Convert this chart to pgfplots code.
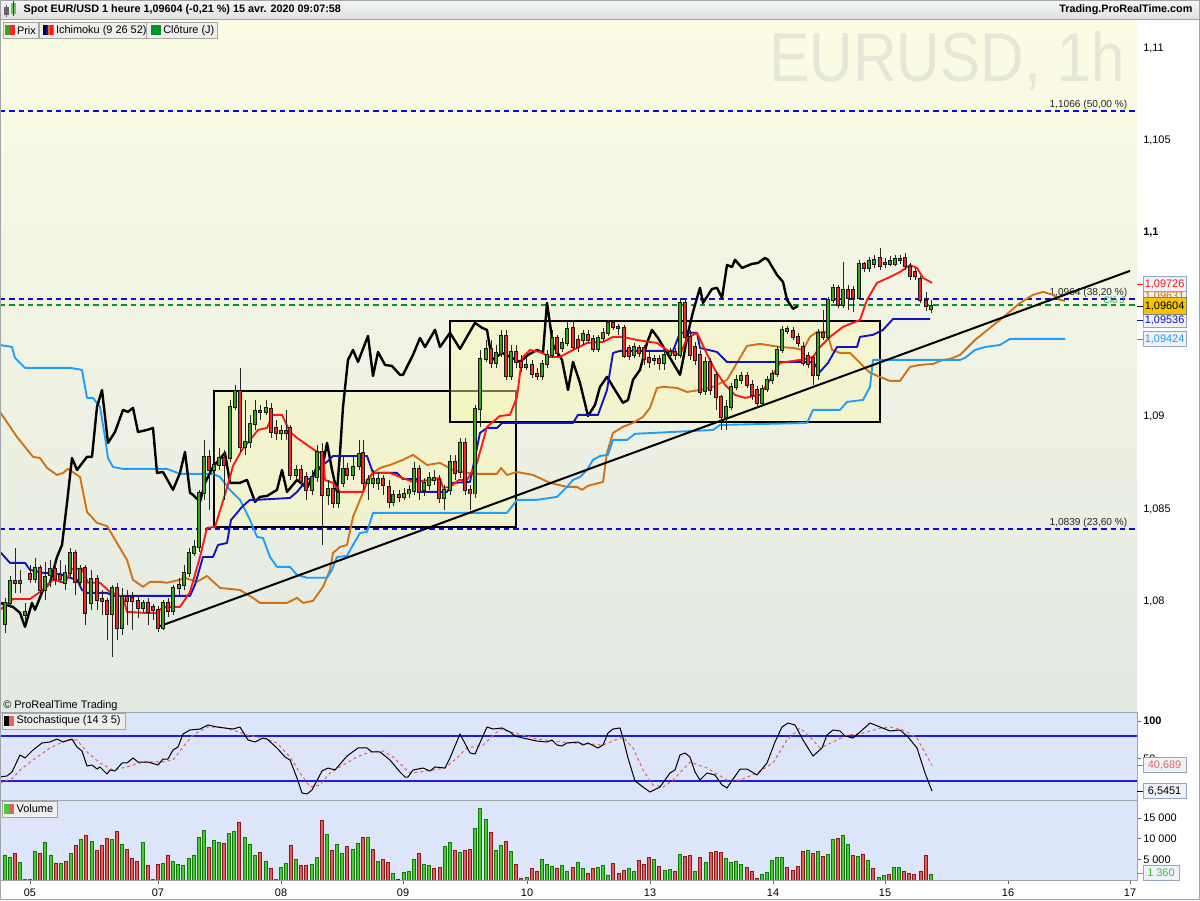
\documentclass[border=0pt]{standalone}
\usepackage{pgfplots}
\pgfplotsset{compat=1.18}
\usepackage{pgfplotstable}
\usepgfplotslibrary{fillbetween}
\usepackage{fontspec}
\setmainfont{Liberation Sans}
\newcommand{\lbl}{\fontsize{8.2}{9.8}\selectfont}
\definecolor{bgtop}{RGB}{252,252,228}
\definecolor{bgbot}{RGB}{227,233,227}
\definecolor{bgblue}{RGB}{221,229,251}
\definecolor{hdtop}{RGB}{246,246,246}
\definecolor{hdbot}{RGB}{222,224,226}
\definecolor{tenkan}{RGB}{255,22,22}
\definecolor{kijun}{RGB}{18,18,190}
\definecolor{senA}{RGB}{210,112,18}
\definecolor{senB}{RGB}{28,158,250}
\definecolor{candgreen}{RGB}{52,168,20}
\definecolor{candred}{RGB}{250,36,36}
\definecolor{candedge}{RGB}{25,25,25}
\definecolor{volgreen}{RGB}{70,205,50}
\definecolor{volgreenedge}{RGB}{20,120,10}
\definecolor{volred}{RGB}{228,92,92}
\definecolor{volrededge}{RGB}{140,25,25}
\definecolor{fibblue}{RGB}{10,10,220}
\definecolor{closegreen}{RGB}{0,150,40}
\definecolor{frame}{RGB}{160,165,170}
\definecolor{boxfill}{RGB}{248,248,180}
\definecolor{wm}{RGB}{230,231,214}
\definecolor{stochred}{RGB}{230,100,100}
\definecolor{stochblue}{RGB}{30,30,210}
\definecolor{gold}{RGB}{248,196,0}
\definecolor{lblfill}{RGB}{238,242,248}
\definecolor{lbledge}{RGB}{150,165,185}
\definecolor{legfill}{RGB}{238,238,238}
\definecolor{volgreenlbl}{RGB}{50,200,50}
\pgfplotstableread{
x o h l c
5 1.07876 1.08018 1.07828 1.07991
10 1.07991 1.08138 1.07964 1.08110
15 1.08110 1.08289 1.08045 1.08100
20 1.08100 1.08170 1.08045 1.08110
25 1.07925 1.07991 1.07882 1.07942
30 1.08148 1.08197 1.08100 1.08121
35 1.08121 1.08235 1.08100 1.08181
40 1.08181 1.08197 1.08023 1.08061
45 1.08061 1.08213 1.08007 1.08132
50 1.08143 1.08224 1.08078 1.08176
55 1.08176 1.08208 1.08089 1.08121
60 1.08143 1.08224 1.08100 1.08121
65 1.08100 1.08197 1.08061 1.08154
70 1.08154 1.08289 1.08132 1.08262
75 1.08262 1.08278 1.08034 1.08105
80 1.08105 1.08197 1.08078 1.08176
85 1.08181 1.08197 1.07871 1.07937
91 1.07991 1.08170 1.07953 1.08121
97 1.08121 1.08143 1.07953 1.08007
102 1.08012 1.08061 1.07925 1.08002
107 1.08002 1.08018 1.07790 1.07931
112 1.07931 1.08089 1.07698 1.08072
117 1.08072 1.08100 1.07790 1.07855
122 1.07855 1.08072 1.07817 1.08023
127 1.08023 1.08061 1.07871 1.08002
132 1.08018 1.08050 1.07844 1.08002
138 1.08002 1.08034 1.07909 1.07964
143 1.07964 1.08007 1.07942 1.07991
148 1.07991 1.08018 1.07871 1.07942
153 1.07969 1.07985 1.07898 1.07953
158 1.07953 1.07974 1.07833 1.07855
163 1.07855 1.08007 1.07844 1.07991
168 1.07991 1.08018 1.07914 1.07947
173 1.07947 1.08089 1.07925 1.08072
179 1.08072 1.08127 1.08034 1.08089
184 1.08089 1.08197 1.08061 1.08154
189 1.08154 1.08289 1.08132 1.08262
194 1.08262 1.08332 1.08245 1.08294
199 1.08294 1.08604 1.08267 1.08588
204 1.08588 1.08875 1.08550 1.08783
209 1.08783 1.08821 1.08496 1.08712
214 1.08712 1.08929 1.08669 1.08739
219 1.08739 1.08832 1.08712 1.08778
224 1.08778 1.08821 1.08550 1.08739
230 1.08778 1.09092 1.08756 1.09054
235 1.09054 1.09173 1.09038 1.09141
240 1.09141 1.09266 1.08810 1.08837
245 1.08837 1.09092 1.08794 1.08864
250 1.08864 1.09010 1.08832 1.08961
255 1.08961 1.09092 1.08929 1.09032
260 1.09032 1.09065 1.08983 1.09027
266 1.09027 1.09092 1.09010 1.09049
271 1.09043 1.09076 1.08886 1.08918
276 1.08940 1.08983 1.08875 1.08913
281 1.08913 1.08956 1.08875 1.08924
286 1.08924 1.09038 1.08875 1.08913
290 1.08940 1.08956 1.08658 1.08685
296 1.08685 1.08739 1.08658 1.08712
301 1.08712 1.08739 1.08615 1.08652
306 1.08674 1.08701 1.08550 1.08604
312 1.08604 1.08712 1.08577 1.08674
317 1.08674 1.08848 1.08647 1.08810
322 1.08810 1.08859 1.08305 1.08577
328 1.08577 1.08658 1.08523 1.08610
333 1.08610 1.08631 1.08507 1.08534
338 1.08534 1.08615 1.08507 1.08588
343 1.08642 1.08794 1.08620 1.08718
347 1.08718 1.08751 1.08658 1.08685
353 1.08685 1.08794 1.08658 1.08728
359 1.08734 1.08875 1.08712 1.08799
363 1.08805 1.08875 1.08604 1.08642
368 1.08642 1.08685 1.08550 1.08658
373 1.08642 1.08712 1.08615 1.08663
378 1.08642 1.08701 1.08604 1.08663
383 1.08663 1.08685 1.08577 1.08631
389 1.08620 1.08658 1.08507 1.08539
393 1.08539 1.08604 1.08517 1.08577
399 1.08577 1.08604 1.08539 1.08566
404 1.08566 1.08615 1.08550 1.08583
409 1.08583 1.08631 1.08561 1.08604
414 1.08599 1.08756 1.08577 1.08718
419 1.08718 1.08739 1.08550 1.08593
424 1.08604 1.08669 1.08572 1.08642
429 1.08631 1.08701 1.08604 1.08669
434 1.08658 1.08712 1.08631 1.08669
439 1.08658 1.08685 1.08534 1.08561
444 1.08561 1.08631 1.08496 1.08604
450 1.08604 1.08794 1.08577 1.08756
455 1.08756 1.08794 1.08658 1.08696
460 1.08701 1.08886 1.08669 1.08859
465 1.08859 1.08886 1.08577 1.08604
470 1.08604 1.08631 1.08496 1.08583
475 1.08583 1.09065 1.08561 1.09043
480 1.09043 1.09363 1.08945 1.09314
486 1.09314 1.09417 1.09298 1.09368
491 1.09368 1.09417 1.09266 1.09293
496 1.09293 1.09390 1.09266 1.09347
501 1.09347 1.09472 1.09325 1.09439
506 1.09439 1.09472 1.09201 1.09223
511 1.09223 1.09390 1.09201 1.09352
516 1.09352 1.09390 1.09266 1.09298
521 1.09298 1.09336 1.09244 1.09271
526 1.09271 1.09320 1.09255 1.09282
532 1.09282 1.09309 1.09212 1.09233
537 1.09233 1.09266 1.09201 1.09223
542 1.09223 1.09309 1.09201 1.09288
547 1.09288 1.09363 1.09266 1.09336
552 1.09336 1.09472 1.09320 1.09428
557 1.09428 1.09445 1.09325 1.09347
562 1.09374 1.09428 1.09352 1.09401
567 1.09401 1.09515 1.09385 1.09477
573 1.09483 1.09526 1.09363 1.09379
578 1.09417 1.09445 1.09352 1.09379
583 1.09417 1.09472 1.09390 1.09450
588 1.09445 1.09472 1.09401 1.09417
593 1.09423 1.09445 1.09352 1.09368
598 1.09368 1.09445 1.09352 1.09428
603 1.09428 1.09483 1.09406 1.09456
608 1.09456 1.09526 1.09439 1.09510
613 1.09510 1.09526 1.09472 1.09488
618 1.09488 1.09504 1.09445 1.09483
624 1.09483 1.09499 1.09320 1.09330
629 1.09374 1.09390 1.09309 1.09330
634 1.09336 1.09401 1.09320 1.09379
639 1.09374 1.09390 1.09325 1.09347
644 1.09374 1.09390 1.09282 1.09314
649 1.09320 1.09352 1.09266 1.09298
654 1.09314 1.09336 1.09282 1.09309
659 1.09314 1.09336 1.09255 1.09293
664 1.09293 1.09363 1.09255 1.09336
670 1.09336 1.09374 1.09320 1.09352
675 1.09352 1.09374 1.09309 1.09336
680 1.09336 1.09646 1.09320 1.09619
685 1.09619 1.09635 1.09417 1.09434
690 1.09434 1.09472 1.09309 1.09336
695 1.09379 1.09406 1.09282 1.09309
700 1.09336 1.09363 1.09119 1.09135
705 1.09141 1.09325 1.09119 1.09298
710 1.09298 1.09320 1.09119 1.09146
716 1.09228 1.09244 1.09038 1.09108
721 1.09108 1.09119 1.08929 1.08999
726 1.08999 1.09092 1.08929 1.09054
731 1.09054 1.09185 1.09038 1.09163
736 1.09163 1.09228 1.09146 1.09201
741 1.09201 1.09244 1.09179 1.09223
747 1.09223 1.09244 1.09157 1.09174
752 1.09174 1.09201 1.09092 1.09119
757 1.09146 1.09168 1.09049 1.09076
762 1.09076 1.09174 1.09059 1.09152
767 1.09152 1.09223 1.09135 1.09201
772 1.09201 1.09255 1.09179 1.09233
777 1.09233 1.09385 1.09217 1.09363
782 1.09363 1.09494 1.09347 1.09472
787 1.09467 1.09494 1.09450 1.09477
793 1.09467 1.09488 1.09417 1.09434
798 1.09434 1.09456 1.09379 1.09401
803 1.09379 1.09406 1.09277 1.09293
808 1.09330 1.09352 1.09266 1.09288
813 1.09320 1.09336 1.09174 1.09228
818 1.09228 1.09477 1.09201 1.09456
823 1.09456 1.09581 1.09417 1.09434
828 1.09434 1.09651 1.09417 1.09635
833 1.09635 1.09722 1.09619 1.09700
838 1.09700 1.09716 1.09592 1.09608
843 1.09608 1.09841 1.09592 1.09689
848 1.09689 1.09716 1.09581 1.09646
853 1.09689 1.09711 1.09570 1.09646
859 1.09646 1.09852 1.09635 1.09830
864 1.09830 1.09841 1.09786 1.09808
869 1.09808 1.09868 1.09786 1.09846
874 1.09830 1.09879 1.09808 1.09852
880 1.09863 1.09917 1.09797 1.09819
885 1.09835 1.09863 1.09808 1.09830
890 1.09830 1.09873 1.09819 1.09846
895 1.09830 1.09879 1.09819 1.09857
900 1.09857 1.09879 1.09830 1.09852
905 1.09863 1.09890 1.09797 1.09819
910 1.09814 1.09835 1.09743 1.09765
915 1.09786 1.09808 1.09743 1.09765
920 1.09748 1.09765 1.09619 1.09635
926 1.09630 1.09678 1.09575 1.09602
931 1.09586 1.09635 1.09564 1.09604
}\candles
\pgfplotstableread{
x y
0 1.07953
13 1.08012
30 1.08012
43 1.08061
53 1.08116
65 1.08100
72 1.08176
82 1.08176
88 1.08100
100 1.08100
110 1.08050
123 1.08023
127 1.07942
143 1.07937
157 1.07937
163 1.07969
180 1.07969
190 1.08050
200 1.08240
207 1.08398
215 1.08403
227 1.08615
233 1.08734
242 1.08821
250 1.08875
258 1.08929
267 1.08940
273 1.09011
282 1.09011
290 1.08918
297 1.08886
307 1.08848
317 1.08810
323 1.08805
325 1.08658
333 1.08642
340 1.08593
363 1.08593
367 1.08658
373 1.08696
390 1.08696
400 1.08674
413 1.08647
430 1.08658
440 1.08669
443 1.08615
450 1.08620
459 1.08658
467 1.08658
477 1.08750
487 1.08946
500 1.09005
510 1.09011
517 1.09108
522 1.09320
530 1.09363
540 1.09352
550 1.09325
560 1.09325
573 1.09363
587 1.09401
603 1.09407
613 1.09434
623 1.09434
637 1.09417
657 1.09401
670 1.09352
680 1.09336
687 1.09428
697 1.09456
705 1.09363
715 1.09255
725 1.09174
735 1.09119
745 1.09103
760 1.09119
770 1.09201
780 1.09293
800 1.09309
813 1.09325
820 1.09379
830 1.09434
843 1.09488
860 1.09526
867 1.09635
877 1.09727
890 1.09759
900 1.09786
910 1.09824
917 1.09808
923 1.09754
932 1.09727
}\tenkan
\pgfplotstableread{
x y
0 1.08268
10 1.08208
25 1.08208
30 1.08170
43 1.08154
60 1.08148
67 1.08132
77 1.08116
82 1.08061
87 1.08045
107 1.08045
113 1.08029
190 1.08029
195 1.08089
203 1.08240
213 1.08240
218 1.08305
227 1.08316
231 1.08441
237 1.08479
242 1.08512
250 1.08550
257 1.08550
290 1.08560
297 1.08593
307 1.08658
313 1.08674
320 1.08728
327 1.08756
333 1.08788
367 1.08788
373 1.08696
397 1.08696
403 1.08663
417 1.08663
420 1.08593
447 1.08593
453 1.08642
470 1.08647
480 1.08913
487 1.08940
497 1.08940
502 1.08967
573 1.08967
578 1.09011
598 1.09011
607 1.09146
613 1.09347
620 1.09358
673 1.09358
680 1.09456
697 1.09456
700 1.09374
717 1.09352
727 1.09298
813 1.09298
820 1.09244
828 1.09293
837 1.09379
857 1.09379
860 1.09434
873 1.09445
883 1.09472
893 1.09531
930 1.09531
}\kijun
\pgfplotstableread{
x y
0 1.09027
17 1.08891
33 1.08783
40 1.08777
47 1.08723
57 1.08685
63 1.08696
68 1.08718
80 1.08674
87 1.08484
97 1.08425
107 1.08408
117 1.08316
127 1.08224
133 1.08116
143 1.08078
150 1.08105
160 1.08105
167 1.08100
180 1.08116
185 1.08127
197 1.08105
207 1.08137
220 1.08072
240 1.08061
253 1.08018
260 1.07991
287 1.07991
297 1.08018
303 1.07991
313 1.08002
323 1.08078
330 1.08170
333 1.08262
340 1.08294
347 1.08305
353 1.08457
360 1.08550
367 1.08642
373 1.08696
380 1.08723
390 1.08739
403 1.08767
413 1.08794
420 1.08767
427 1.08739
440 1.08750
453 1.08712
473 1.08691
497 1.08691
501 1.08723
507 1.08685
517 1.08701
533 1.08685
550 1.08642
567 1.08620
577 1.08620
582 1.08604
588 1.08626
603 1.08647
607 1.08805
613 1.08913
623 1.08946
633 1.08967
643 1.09000
650 1.09049
657 1.09157
663 1.09163
677 1.09157
687 1.09135
700 1.09146
713 1.09163
727 1.09201
737 1.09293
747 1.09385
760 1.09396
780 1.09379
793 1.09374
803 1.09363
810 1.09434
817 1.09461
827 1.09461
832 1.09363
840 1.09347
850 1.09347
860 1.09293
870 1.09239
880 1.09217
890 1.09195
900 1.09195
910 1.09271
920 1.09282
933 1.09287
943 1.09309
950 1.09314
960 1.09336
975 1.09417
990 1.09483
1000 1.09526
1020 1.09618
1033 1.09662
1043 1.09678
1053 1.09662
1060 1.09635
1065 1.09629
}\senkouA
\pgfplotstableread{
x y
0 1.09390
12 1.09379
15 1.09320
25 1.09266
70 1.09266
82 1.09255
87 1.09103
93 1.09103
100 1.09054
105 1.08891
108 1.08777
113 1.08728
123 1.08718
167 1.08718
180 1.08691
213 1.08691
220 1.08674
230 1.08604
240 1.08550
250 1.08441
257 1.08349
263 1.08343
270 1.08240
277 1.08186
290 1.08186
297 1.08143
307 1.08127
327 1.08127
332 1.08170
337 1.08240
347 1.08246
353 1.08305
360 1.08370
367 1.08376
373 1.08479
507 1.08479
517 1.08550
537 1.08550
557 1.08566
567 1.08620
573 1.08658
580 1.08674
587 1.08712
593 1.08767
600 1.08788
608 1.08794
613 1.08875
627 1.08875
635 1.08908
713 1.08929
720 1.08956
807 1.08967
813 1.09038
840 1.09038
847 1.09081
863 1.09092
870 1.09163
873 1.09309
960 1.09309
965 1.09320
975 1.09363
985 1.09379
1000 1.09390
1010 1.09423
1065 1.09423
}\senkouB
\pgfplotstableread{
x y
0 1.07991
13 1.07969
20 1.07937
25 1.07861
32 1.07991
35 1.07953
43 1.08061
50 1.08100
57 1.08240
62 1.08305
67 1.08533
72 1.08777
77 1.08712
87 1.08783
92 1.08783
97 1.09054
102 1.09146
108 1.08859
115 1.08918
123 1.09038
128 1.09027
133 1.09049
138 1.08918
147 1.08929
153 1.08940
157 1.08696
163 1.08701
173 1.08604
180 1.08696
185 1.08810
190 1.08588
193 1.08577
200 1.08539
205 1.08642
213 1.08728
225 1.08805
230 1.08642
240 1.08642
247 1.08658
255 1.08539
260 1.08566
267 1.08571
277 1.08604
282 1.08712
287 1.08593
297 1.08658
307 1.08615
312 1.08669
317 1.08728
322 1.08712
327 1.08859
332 1.08712
337 1.08593
340 1.08805
343 1.09054
348 1.09309
353 1.09363
358 1.09298
368 1.09439
373 1.09222
378 1.09352
385 1.09282
392 1.09276
400 1.09228
403 1.09228
413 1.09336
420 1.09428
425 1.09379
435 1.09472
440 1.09379
450 1.09456
460 1.09369
475 1.09510
482 1.09483
487 1.09472
492 1.09309
502 1.09347
510 1.09325
520 1.09298
528 1.09336
537 1.09363
543 1.09347
547 1.09618
553 1.09390
562 1.09309
568 1.09146
573 1.09298
580 1.09184
588 1.09005
595 1.09065
600 1.09163
607 1.09217
615 1.09146
623 1.09076
628 1.09092
633 1.09201
640 1.09255
647 1.09401
652 1.09472
658 1.09428
667 1.09347
673 1.09293
680 1.09228
683 1.09309
688 1.09456
693 1.09569
697 1.09645
700 1.09700
703 1.09618
712 1.09694
717 1.09700
722 1.09645
727 1.09824
732 1.09813
735 1.09852
742 1.09808
752 1.09830
758 1.09835
765 1.09862
768 1.09852
777 1.09770
783 1.09732
787 1.09635
793 1.09586
798 1.09602
}\chikou
\pgfplotstableread{
x y
0 25.3
7 26.7
12 32
20 54.7
25 50.7
33 61.3
42 70.7
50 72
57 76
63 72
72 76
77 65.3
82 60
87 40
92 41.3
97 36
100 38.7
107 29.3
110 34.7
115 33.3
122 44
127 44
133 50.7
138 45.3
148 45.3
158 41.3
163 49.3
168 49.3
173 61.3
178 65.3
183 82.7
190 88
200 89.3
208 94.7
217 92
233 89.3
240 92
248 74.7
255 72
263 77.3
267 76
277 64
285 52
290 48
297 24
302 4
307 2.7
312 8
322 33.3
328 37.3
335 34.7
347 53.3
358 64
367 64
372 58.7
380 58.7
390 48
400 32
405 25.3
408 25.3
413 34.7
423 37.3
430 33.3
435 38.7
445 37.3
450 50.7
460 82.7
470 57.3
475 56
487 92
493 89.3
502 90.7
510 85.3
515 80
523 77.3
537 73.3
547 72
552 74.7
557 68
562 66.7
567 70.7
578 72
583 68
588 70.7
598 64
603 68
608 84
613 89.3
620 90.7
623 77.3
628 50.7
635 20
643 12
650 5.3
660 12
670 30.7
675 34.7
680 54.7
685 57.3
690 52
695 32
700 21.3
707 30.7
715 28
722 14.7
727 10.7
740 36
747 36
757 28
767 44
775 72
782 92
788 97.3
795 94.7
803 74.7
813 53.3
822 64
827 81.3
833 88
840 86.7
845 80
853 77.3
860 85.3
870 97.3
880 92
890 86.7
900 88
908 78.7
917 64
925 30.7
932 6.5
}\stochK
\pgfplotstableread{
x y
0 17.3
13 24
20 34.7
33 48
50 64
67 74.7
77 74.7
87 58.7
100 44
113 34.7
127 38.7
143 45.3
163 45.3
173 48
183 65.3
193 81.3
207 92
220 92
233 88
247 81.3
263 77.3
277 70.7
290 52
300 30.7
310 12
320 14.7
330 30.7
343 41.3
357 52
370 58.7
383 60
393 52
410 30.7
420 32
445 37.3
457 50.7
467 64
483 68
500 89.3
510 85.3
523 81.3
537 76
553 73.3
570 70.7
590 69.3
603 68
623 78.7
633 64
643 34.7
653 14.7
663 12
673 21.3
690 45.3
707 37.3
727 21.3
740 21.3
757 30.7
773 44
787 74.7
800 90.7
810 78.7
820 64
833 72
847 81.3
860 82.7
877 89.3
890 92
903 88
917 77.3
932 40.7
}\stochD
\pgfplotstableread{
x v g
5 6040 1
10 5480 1
15 6450 0
20 4270 1
25 200 1
30 170 1
35 6930 1
40 6450 0
45 9100 1
51 6040 1
56 4030 0
61 4030 1
66 4520 0
71 6450 1
76 8380 0
81 9830 1
86 10800 0
92 9350 1
97 7170 0
102 8380 0
107 10070 0
112 9830 1
117 11760 0
122 8620 1
127 7410 0
132 5240 0
137 4520 0
143 9100 1
148 3550 0
153 170 1
158 3860 0
163 4030 1
168 5970 0
173 4520 1
178 3790 1
183 3620 1
189 5240 1
194 6040 1
199 10310 1
204 12000 1
209 7900 0
214 9590 1
219 9100 1
224 8860 0
229 11280 1
234 11760 1
239 13930 0
245 10310 1
250 8620 1
255 5970 1
260 6690 0
266 4520 1
271 2830 0
276 170 1
281 3070 1
286 4030 1
291 8380 0
296 5000 1
301 3550 0
306 3550 0
312 3860 1
317 5480 1
322 14420 0
327 11040 1
332 7170 0
337 8620 1
342 6450 1
347 8140 0
353 7410 1
358 8860 1
363 10380 0
368 10380 1
373 7410 0
378 4520 1
383 5000 0
388 4270 0
393 1620 1
398 240 0
404 1860 1
409 2170 1
414 5000 1
419 6450 0
424 3790 1
429 3550 1
434 2830 0
440 3070 0
445 8140 1
450 9100 1
455 7170 0
460 6690 1
465 7170 0
470 7410 0
475 12490 1
480 17320 1
486 14660 1
491 11520 0
496 7170 1
501 8380 1
506 9350 0
511 6930 1
516 3790 0
521 410 0
527 650 1
532 2830 0
537 2100 0
542 5000 1
547 3790 1
552 3310 1
557 2830 0
562 3550 1
567 2100 1
573 3070 0
578 4270 1
583 2830 1
588 1620 0
593 2830 0
598 3070 1
603 3550 1
608 1140 1
613 4030 0
619 1620 0
624 2340 0
629 2830 1
634 2100 1
639 4760 0
644 3790 0
649 5480 0
654 5000 1
659 3310 0
665 2340 1
670 2580 1
675 2100 0
680 6210 1
685 5720 0
690 5970 0
695 2100 1
700 5480 0
706 4270 1
711 6690 0
716 6930 0
721 6690 0
726 5240 1
731 4270 1
736 4520 1
741 3790 1
747 3070 0
752 2100 0
757 410 0
762 1380 1
767 1860 1
772 4760 1
777 5480 1
782 5480 1
787 3070 0
793 2340 0
798 3310 0
803 6930 0
808 7170 1
813 6450 0
818 6930 1
823 5720 0
828 6210 1
833 9830 1
838 10070 0
843 10800 1
848 8620 1
853 5970 0
858 5720 1
863 6210 0
868 4760 1
873 2830 0
879 650 1
884 1140 1
889 1380 0
894 3070 1
899 3070 1
904 2100 0
909 1620 0
914 1380 0
921 2100 0
926 5970 0
931 1360 1
}\volumes
\begin{document}
\begin{tikzpicture}
\begin{scope}[x=1pt,y=1pt]
\fill[white] (0,0) rectangle (900,675);
\shade[top color=hdtop, bottom color=hdbot] (0,660.75) rectangle (900,675);
\shade[top color=bgtop, bottom color=bgbot] (0,141) rectangle (852.75,660);
\end{scope}
% ================= main price panel =================
\begin{axis}[
  at={(0pt,141pt)}, anchor=south west, scale only axis,
  width=852.75pt, height=519pt,
  xmin=0, xmax=1137, ymin=1.07399, ymax=1.11153,
  axis line style={draw=frame, line width=0.6pt},
  xtick=\empty, scaled y ticks=false,
  ytick={1.08,1.085,1.09,1.095,1.1,1.105,1.11},
  yticklabels={{1,08},{1,085},{1,09},{},{\textbf{1,1}},{1,105},{1,11}},
  ytick pos=right, yticklabel pos=right,
  tick align=outside, major tick length=3pt,
  tick style={draw=black!60, line width=0.5pt},
  yticklabel style={font=\lbl, inner sep=1.5pt},
]
\node[anchor=east, font=\fontsize{52}{52}\selectfont, text=wm, xscale=0.87, inner sep=0pt] at (axis cs:1125,1.10931) {EURUSD, 1h};
% cloud
\addplot[name path=sa, draw=none, forget plot] table {\senkouA};
\addplot[name path=sb, draw=none, forget plot] table {\senkouB};
\addplot[fill=black!70, fill opacity=0.07, draw=none, forget plot] fill between[of=sa and sb];
% boxes
\draw[line width=1.7pt, fill=boxfill, fill opacity=0.45] (axis cs:214,1.09141) rectangle (axis cs:516,1.08403);
\draw[line width=1.7pt, fill=boxfill, fill opacity=0.45] (axis cs:450,1.09521) rectangle (axis cs:880,1.08973);
% fibonacci / close lines
\addplot[fibblue, line width=1.4pt, dash pattern=on 4pt off 3pt] coordinates {(0,1.1066) (1137,1.1066)};
\addplot[fibblue, line width=1.4pt, dash pattern=on 4pt off 3pt] coordinates {(0,1.0964) (1137,1.0964)};
\addplot[closegreen, line width=1.4pt, dash pattern=on 4pt off 3pt] coordinates {(0,1.09608) (1137,1.09608)};
\addplot[fibblue, line width=1.4pt, dash pattern=on 4pt off 3pt] coordinates {(0,1.0839) (1137,1.0839)};
\node[anchor=south west, font=\fontsize{7.6}{9}\selectfont, inner sep=1pt, text=black!85] at (axis cs:1048,1.1066) {1,1066 (50,00 \%)};
\node[anchor=south west, font=\fontsize{7.6}{9}\selectfont, inner sep=1pt, text=black!85] at (axis cs:1048,1.0964) {1,0964 (38,20 \%)};
\node[anchor=south west, font=\fontsize{7.6}{9}\selectfont, inner sep=1pt, text=black!85] at (axis cs:1048,1.0839) {1,0839 (23,60 \%)};
\node[anchor=west, font=\fontsize{7}{8}\selectfont, inner sep=0pt, text=closegreen!80] at (axis cs:1103,1.09635) {Clô J};
% ichimoku lines
\addplot[senA, line width=1.4pt, line join=round] table {\senkouA};
\addplot[senB, line width=1.4pt, line join=round] table {\senkouB};
\addplot[black, line width=1.8pt, line join=round] table {\chikou};
\addplot[kijun, line width=1.4pt, line join=round] table {\kijun};
\addplot[tenkan, line width=1.4pt, line join=round] table {\tenkan};
% trend line
\addplot[black, line width=1.5pt] coordinates {(158,1.07861) (1130,1.09792)};
% candles: wicks
\addplot[draw=none, mark=none, error bars/.cd, y dir=plus, y explicit, error mark=none,
  error bar style={solid, line width=0.7pt, draw=black!85}]
  table[x=x, y=l, y error plus expr={\thisrow{h}-\thisrow{l}}] {\candles};
% body outlines
\addplot[draw=none, mark=none, error bars/.cd, y dir=plus, y explicit, error mark=none,
  error bar style={solid, line width=3.3pt, draw=candedge}]
  table[x=x, y expr={min(\thisrow{o},\thisrow{c})-0.00004}, y error plus expr={abs(\thisrow{c}-\thisrow{o})+0.00008}] {\candles};
% up bodies
\addplot[draw=none, mark=none, error bars/.cd, y dir=plus, y explicit, error mark=none,
  error bar style={solid, line width=2.1pt, draw=candgreen}]
  table[x=x, y expr={\thisrow{c}>=\thisrow{o} ? \thisrow{o} : nan}, y error plus expr={abs(\thisrow{c}-\thisrow{o})}] {\candles};
% down bodies
\addplot[draw=none, mark=none, error bars/.cd, y dir=plus, y explicit, error mark=none,
  error bar style={solid, line width=2.1pt, draw=candred}]
  table[x=x, y expr={\thisrow{c}<\thisrow{o} ? \thisrow{c} : nan}, y error plus expr={abs(\thisrow{c}-\thisrow{o})}] {\candles};
\end{axis}
% ================= stochastic panel =================
\begin{axis}[
  at={(0pt,75pt)}, anchor=south west, scale only axis,
  width=852.75pt, height=66pt,
  xmin=0, xmax=1137, ymin=-5.33, ymax=112,
  axis background/.style={fill=bgblue},
  axis line style={draw=frame, line width=0.6pt},
  xtick=\empty, scaled y ticks=false,
  ytick={50,100}, yticklabels={{50},{\textbf{100}}},
  ytick pos=right, yticklabel pos=right,
  tick align=outside, major tick length=3pt,
  tick style={draw=black!60, line width=0.5pt},
  yticklabel style={font=\lbl, inner sep=1.5pt},
]
\addplot[stochblue, line width=0.8pt] coordinates {(0,80) (1137,80)};
\addplot[stochblue, line width=0.8pt] coordinates {(0,20) (1137,20)};
\addplot[stochred, line width=0.8pt, dash pattern=on 2.2pt off 2.2pt] table {\stochD};
\addplot[black, line width=0.75pt, line join=round] table {\stochK};
\end{axis}
% ================= volume panel =================
\begin{axis}[
  at={(0pt,15pt)}, anchor=south west, scale only axis,
  width=852.75pt, height=60pt,
  xmin=0, xmax=1137, ymin=0, ymax=19320,
  axis background/.style={fill=bgblue},
  axis line style={draw=frame, line width=0.6pt},
  xtick={30,158,281,403,527,650,773,885,1008,1130},
  xticklabels={05,07,08,09,10,13,14,15,16,17},
  xtick pos=bottom, scaled y ticks=false,
  ytick={5000,10000,15000}, yticklabels={{5 000},{10 000},{15 000}},
  ytick pos=right, yticklabel pos=right,
  tick align=outside, major tick length=3pt,
  tick style={draw=black!60, line width=0.5pt},
  yticklabel style={font=\lbl, inner sep=1.5pt},
  xticklabel style={font=\lbl},
]
\addplot[ybar, bar width=2.5pt, bar shift=0pt, fill=volgreen, draw=volgreenedge, line width=0.45pt]
  table[x=x, y expr={\thisrow{g}>0 ? \thisrow{v} : nan}] {\volumes};
\addplot[ybar, bar width=2.5pt, bar shift=0pt, fill=volred, draw=volrededge, line width=0.45pt]
  table[x=x, y expr={\thisrow{g}>0 ? nan : \thisrow{v}}] {\volumes};
\end{axis}
\begin{scope}[x=1pt,y=1pt]
% ================= header texts =================
\draw[frame] (0,660.75) -- (900,660.75);
\fill[black!60] (3,663.5) rectangle (6.5,670); \draw[black!60] (4.75,662) -- (4.75,671.5);
\fill[candgreen!70] (8.5,664.5) rectangle (12,673); \draw[candgreen!50!black] (10.25,663) -- (10.25,674.5);
\node[anchor=west, font=\bfseries\fontsize{8.1}{9.6}\selectfont, inner sep=0pt] at (17.5,667.9) {Spot EUR/USD 1 heure 1,09604 (-0,21 \%) 15 avr. 2020 09:07:58};
\node[anchor=east, font=\bfseries\fontsize{8.1}{9.6}\selectfont, inner sep=0pt] at (894.5,667.9) {Trading.ProRealTime.com};
% legend boxes main
\draw[draw=black!35, fill=legfill] (2.25,646.5) rectangle (28.7,658.2);
\fill[candgreen] (3.9,648.8) rectangle (7.5,656); \fill[candred] (7.5,648.8) rectangle (11.1,656);
\node[anchor=west, font=\lbl, inner sep=0pt] at (12.6,652.3) {Prix};
\draw[draw=black!35, fill=legfill] (29.2,646.5) rectangle (109.5,658.2);
\fill[black] (32,648.8) rectangle (34.2,656); \fill[kijun] (34.2,648.8) rectangle (36.2,656);
\fill[senA] (36.2,648.8) rectangle (37.8,656); \fill[tenkan] (37.8,648.8) rectangle (39.6,656);
\fill[senB] (39.6,648.8) rectangle (40.5,656);
\node[anchor=west, font=\lbl, inner sep=0pt] at (41.8,652.3) {Ichimoku (9 26 52)};
\draw[draw=black!35, fill=legfill] (110,646.5) rectangle (163,658.2);
\fill[closegreen] (113,648.8) rectangle (120.5,656);
\node[anchor=west, font=\lbl, inner sep=0pt] at (122.3,652.3) {Clôture (J)};
\node[anchor=west, font=\lbl, inner sep=0pt] at (2.3,145.5) {© ProRealTime Trading};
% legend stochastic
\draw[draw=black!35, fill=legfill] (1.5,128.3) rectangle (94,140);
\fill[black] (3.2,130.5) rectangle (6.8,137.8); \fill[stochred] (6.8,130.5) rectangle (10.4,137.8);
\node[anchor=west, font=\lbl, inner sep=0pt] at (12.3,134.2) {Stochastique (14 3 5)};
% legend volume
\draw[draw=black!35, fill=legfill] (1.5,62.3) rectangle (42.8,74);
\fill[volgreen] (3.2,64.5) rectangle (6.8,71.8); \fill[volred] (6.8,64.5) rectangle (10.4,71.8);
\node[anchor=west, font=\lbl, inner sep=0pt] at (12.3,68.2) {Volume};
% ================= right value boxes =================
\tikzset{vbox/.style={draw=lbledge, fill=lblfill, font=\lbl, inner sep=0.8pt, minimum width=32.5pt, minimum height=11.6pt, anchor=west}}
\draw[senB, line width=0.7pt] (853,420.75) -- (857,420.75);
\node[vbox, text=senB] at (857,420.75) {1,09424};
\draw[kijun, line width=0.7pt] (853,435) -- (857,435);
\node[vbox, text=kijun] at (857,435) {1,09536};
\node[vbox, text=senA] at (857,452.5) {1,09631};
\draw[tenkan, line width=0.7pt] (853,462) -- (857,462);
\node[vbox, text=tenkan] at (857,462) {1,09726};
\draw[black, line width=0.7pt] (853,445.5) -- (857,445.5);
\node[vbox, fill=gold, draw=black!50, text=black, minimum height=12.5pt] at (857,445.5) {1,09604};
\draw[stochred, line width=0.7pt] (853,101.25) -- (857,101.25);
\node[vbox, text=stochred] at (857,101.25) {40,689};
\draw[black, line width=0.7pt] (853,81.75) -- (857,81.75);
\node[vbox, text=black] at (857,81.75) {6,5451};
\draw[volgreenlbl, line width=0.7pt] (853,20.25) -- (857,20.25);
\node[vbox, text=volgreenlbl, minimum width=27pt] at (857,20.25) {1 360};
\draw[frame, line width=0.6pt] (0.3,0.3) rectangle (899.3,674.7);
\end{scope}
\pgfresetboundingbox
\useasboundingbox (0pt,0pt) rectangle (900pt,675pt);
\end{tikzpicture}
\end{document}
